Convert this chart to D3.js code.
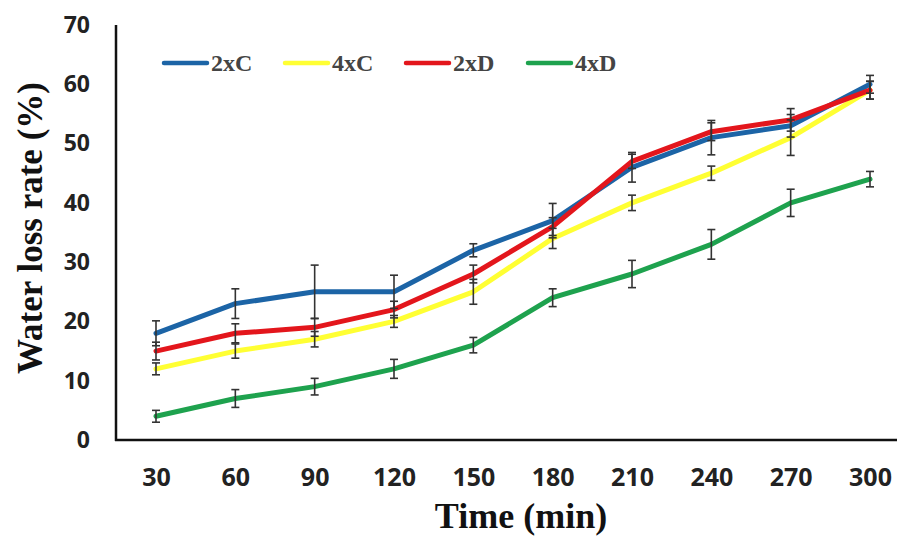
<!DOCTYPE html>
<html>
<head>
<meta charset="utf-8">
<script src="https://cdn.jsdelivr.net/npm/d3@7"></script>
<style>
  body { margin: 0; background: #fff; }
  svg { display: block; }
</style>
</head>
<body>
<div id="chart"></div>
<script>
// time points (min)
var times = ["30", "60", "90", "120", "150", "180", "210", "240", "270", "300"];
var seriesNames = ["2xC", "4xC", "2xD", "4xD"];
var yTicks = [0, 10, 20, 30, 40, 50, 60, 70];

var val2xC = [18, 23, 25, 25, 32, 37, 46, 51, 53, 60];
var val4xC = [12, 15, 17, 20, 25, 34, 40, 45, 51, 59];
var val2xD = [15, 18, 19, 22, 28, 36, 47, 52, 54, 59];
var val4xD = [4, 7, 9, 12, 16, 24, 28, 33, 40, 44];

var err2xC = [2.1, 2.5, 4.5, 2.8, 1.1, 2.9, 2.5, 2.9, 1.9, 1.5];
var err4xC = [1.0, 1.2, 1.3, 1.0, 2.1, 1.7, 1.3, 1.2, 3.0, 1.5];
var err2xD = [1.5, 1.6, 1.5, 1.4, 1.5, 1.5, 1.2, 1.5, 1.9, 1.5];
var err4xD = [1.0, 1.5, 1.4, 1.6, 1.3, 1.5, 2.3, 2.5, 2.3, 1.3];

var colors = ["#1c64a6", "#ffff33", "#e3161c", "#1ea24e"];

var values = [val2xC, val4xC, val2xD, val4xD];
var errors = [err2xC, err4xC, err2xD, err4xD];

var W = 897, H = 538;
var plotL = 116, plotR = 897, plotT = 25, plotB = 440;

var svg = d3.select("#chart").append("svg")
    .attr("width", W)
    .attr("height", H);

var x = d3.scalePoint()
    .domain(times)
    .range([156, 870]);

var y = d3.scaleLinear()
    .domain([0, 70])
    .range([plotB, plotT]);

var series = seriesNames.map(function(name, i) {
  return {
    name: name,
    color: colors[i],
    points: times.map(function(t, j) {
      return { t: t, v: values[i][j], e: errors[i][j] };
    })
  };
});

// y axis labels
var yAxis = svg.append("g")
    .attr("transform", "translate(" + plotL + ",0)")
    .call(d3.axisLeft(y).tickValues(yTicks).tickSize(0).tickPadding(26));
yAxis.select(".domain").remove();
yAxis.selectAll("text")
    .attr("font-family", "'Open Sans', sans-serif")
    .attr("font-weight", "bold")
    .attr("font-size", 23)
    .attr("fill", "#222");

// x axis labels
var xAxis = svg.append("g")
    .attr("transform", "translate(0," + plotB + ")")
    .call(d3.axisBottom(x).tickSize(0));
xAxis.select(".domain").remove();
xAxis.selectAll("text")
    .attr("dy", null)
    .attr("y", 46)
    .attr("font-family", "'Open Sans', sans-serif")
    .attr("font-weight", "bold")
    .attr("font-size", 25)
    .attr("fill", "#222");

// axis lines
svg.append("line")
    .attr("x1", plotL).attr("x2", plotL)
    .attr("y1", plotT).attr("y2", plotB + 1)
    .attr("stroke", "#111").attr("stroke-width", 2.5);
svg.append("line")
    .attr("x1", plotL - 1).attr("x2", plotR)
    .attr("y1", plotB).attr("y2", plotB)
    .attr("stroke", "#111").attr("stroke-width", 2.5);

var line = d3.line()
    .x(function(d) { return x(d.t); })
    .y(function(d) { return y(d.v); });

svg.append("g").selectAll("path")
    .data(series)
    .enter().append("path")
    .attr("d", function(d) { return line(d.points); })
    .attr("fill", "none")
    .attr("stroke", function(d) { return d.color; })
    .attr("stroke-width", 5)
    .attr("stroke-linejoin", "round")
    .attr("stroke-linecap", "round");

// error bars
var eb = svg.append("g")
    .attr("stroke", "#333")
    .attr("stroke-width", 1.6)
    .selectAll("g")
    .data(series)
    .enter().append("g")
    .selectAll("g")
    .data(function(d) { return d.points; })
    .enter().append("g");

eb.append("line")
    .attr("x1", function(d) { return x(d.t); })
    .attr("x2", function(d) { return x(d.t); })
    .attr("y1", function(d) { return y(d.v - d.e); })
    .attr("y2", function(d) { return y(d.v + d.e); });
eb.append("line")
    .attr("x1", function(d) { return x(d.t) - 4; })
    .attr("x2", function(d) { return x(d.t) + 4; })
    .attr("y1", function(d) { return y(d.v + d.e); })
    .attr("y2", function(d) { return y(d.v + d.e); });
eb.append("line")
    .attr("x1", function(d) { return x(d.t) - 4; })
    .attr("x2", function(d) { return x(d.t) + 4; })
    .attr("y1", function(d) { return y(d.v - d.e); })
    .attr("y2", function(d) { return y(d.v - d.e); });

// legend
var legendX = [164, 285, 406, 528];
var leg = svg.append("g").selectAll("g")
    .data(series)
    .enter().append("g")
    .attr("transform", function(d, i) { return "translate(" + legendX[i] + ",63)"; });
leg.append("line")
    .attr("x1", 0).attr("x2", 43)
    .attr("stroke", function(d) { return d.color; })
    .attr("stroke-width", 4.5)
    .attr("stroke-linecap", "round");
leg.append("text")
    .attr("x", 47)
    .attr("y", 8)
    .attr("font-family", "'Liberation Serif', 'Times New Roman', serif")
    .attr("font-weight", "bold")
    .attr("font-size", 24)
    .attr("fill", "#444")
    .text(function(d) { return d.name; });

// axis titles
svg.append("text")
    .attr("x", 521)
    .attr("y", 528)
    .attr("text-anchor", "middle")
    .attr("font-family", "'Liberation Serif', 'Times New Roman', serif")
    .attr("font-weight", "bold")
    .attr("font-size", 36)
    .attr("fill", "#111")
    .text("Time (min)");

svg.append("text")
    .attr("transform", "translate(42,228) rotate(-90)")
    .attr("text-anchor", "middle")
    .attr("font-family", "'Liberation Serif', 'Times New Roman', serif")
    .attr("font-weight", "bold")
    .attr("font-size", 35)
    .attr("fill", "#111")
    .text("Water loss rate (%)");
</script>
</body>
</html>
